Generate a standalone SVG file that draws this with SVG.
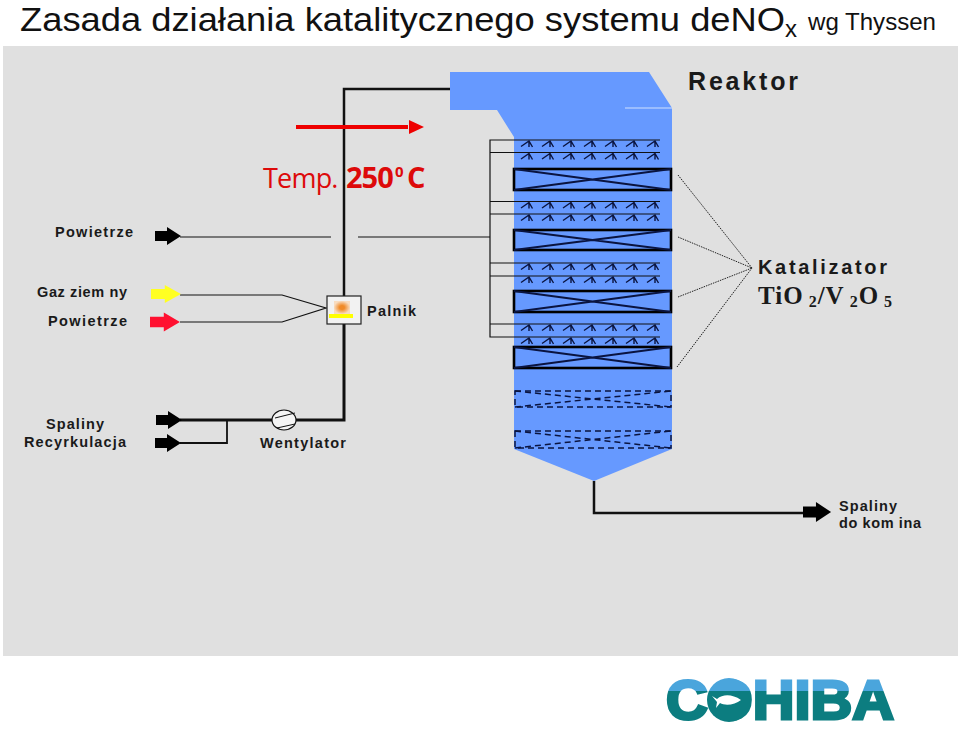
<svg xmlns="http://www.w3.org/2000/svg" xmlns:xlink="http://www.w3.org/1999/xlink" width="960" height="731" viewBox="0 0 960 731">
<style>
text{font-family:"Liberation Sans",Arial,sans-serif}
.lb{font-weight:bold;font-size:14.5px;fill:#1a1a1a}
.ln{fill:none;stroke:#111}
.dot{fill:none;stroke:#222;stroke-width:1;stroke-dasharray:1.5 1}
.cat{fill:none;stroke:#000;stroke-width:2.600}
.x{fill:none;stroke:#0a1440;stroke-width:1.8}
.dash{fill:none;stroke:#0a1440;stroke-width:1.5;stroke-dasharray:6 4}
.spr{fill:none;stroke:#0a1440;stroke-width:1.4}
</style>
<defs>
<g id="s"><path class="spr" d="M-8 5.500L0 0L3.500 6M0 0V6"/></g>
<g id="row"><use xlink:href="#s" x="529"/><use xlink:href="#s" x="550"/><use xlink:href="#s" x="571"/><use xlink:href="#s" x="592"/><use xlink:href="#s" x="613"/><use xlink:href="#s" x="634"/><use xlink:href="#s" x="655"/></g>
<path id="ar" d="M0 -5H12V-9L26 0L12 9V5H0Z"/>
<linearGradient id="logo" x1="0" y1="0" x2="0" y2="1"><stop offset="0.37" stop-color="#4aa5dc"/><stop offset="0.37" stop-color="#0c7d80"/></linearGradient>
<linearGradient id="o" x1="0" y1="0" x2="0" y2="1"><stop offset="0.3" stop-color="#4aa5dc"/><stop offset="0.3" stop-color="#0c7d80"/></linearGradient>
<radialGradient id="fl"><stop offset="0.3" stop-color="#f08a28"/><stop offset="1" stop-color="#f8dcc0"/></radialGradient>
</defs>
<rect width="960" height="731" fill="#fff"/>
<rect x="3" y="46" width="955" height="610" fill="#e0e0e0"/>
<g id="title"><text x="20" y="31" font-size="34" fill="#111" textLength="765" lengthAdjust="spacingAndGlyphs">Zasada działania katalitycznego systemu deNO</text><text x="785" y="37" font-size="24" fill="#111">x</text><text x="808" y="30" font-size="24" fill="#111" textLength="128" lengthAdjust="spacingAndGlyphs">wg Thyssen</text></g>
<g id="reactor">
<path d="M450 72H649L672 108V449L594 481L514 449V137L497 110H450Z" fill="#6699ff"/>
<path d="M625 108H672" stroke="#cfe0ff" stroke-width="1"/>
<text x="688" y="90" font-size="25" font-weight="bold" fill="#1a1a1a" textLength="110">Reaktor</text>
</g>
<g id="connectors">
<path class="ln" stroke-width="2.500" d="M344 296V89H450"/>
<path class="ln" stroke-width="3" d="M344 324V420H296M272 420H180"/>
<path class="ln" stroke-width="1.800" d="M180 443H227V420"/>
<path class="ln" stroke-width="1.200" d="M180 237H331M358 237H490"/>
<path class="ln" stroke-width="1.200" d="M180 295H282L326 308L282 322H180"/>
<path class="ln" stroke-width="1.200" d="M660 140H490V337H660M490 152.500H660M490 201.500H660M490 214H660M490 263H660M490 276H660M490 324H660"/>
<path class="ln" stroke-width="2.500" d="M594 481V513H805"/>
<path class="dot" d="M678 175L752 268M678 237L752 268M678 297L752 268M677 367L752 268"/>
</g>
<g id="sprayers">
<use xlink:href="#row" y="141"/><use xlink:href="#row" y="153.500"/><use xlink:href="#row" y="202.500"/><use xlink:href="#row" y="215"/><use xlink:href="#row" y="264"/><use xlink:href="#row" y="277"/><use xlink:href="#row" y="325"/><use xlink:href="#row" y="338"/>
</g>
<g id="catalysts">
<rect class="cat" x="514" y="169" width="157" height="21"/><path class="x" d="M514 169L671 190M514 190L671 169"/>
<rect class="cat" x="514" y="230" width="157" height="20"/><path class="x" d="M514 230L671 250M514 250L671 230"/>
<rect class="cat" x="514" y="291" width="157" height="21"/><path class="x" d="M514 291L671 312M514 312L671 291"/>
<rect class="cat" x="514" y="347" width="157" height="21"/><path class="x" d="M514 347L671 368M514 368L671 347"/>
<rect class="dash" x="515" y="391" width="156" height="16"/><path class="dash" d="M515 391L671 407M515 407L671 391"/>
<rect class="dash" x="515" y="431" width="156" height="17"/><path class="dash" d="M515 431L671 448M515 448L671 431"/>
</g>
<g id="burner">
<rect x="327" y="296" width="34" height="28" fill="#f2f2f2" stroke="#222" stroke-width="1.200"/>
<rect x="334" y="301" width="16" height="13" fill="url(#fl)"/>
<rect x="329" y="314" width="24" height="4" fill="#ffff00"/>
<text class="lb" x="367" y="316" textLength="49">Palnik</text>
</g>
<g id="fan">
<ellipse cx="284" cy="420" rx="12" ry="10" fill="#f4f4f4" stroke="#111" stroke-width="1.200"/>
<path class="ln" d="M275 418L295 413M277 428L295 424"/>
<text class="lb" x="260" y="448" textLength="86">Wentylator</text>
</g>
<g id="inputs">
<use xlink:href="#ar" x="155" y="236" fill="#000"/>
<use xlink:href="#ar" transform="translate(151 294) scale(1.15 1)" fill="#ffff22"/>
<use xlink:href="#ar" transform="translate(150 322) scale(1.15 1.05)" fill="#ff1030"/>
<use xlink:href="#ar" x="156" y="420" fill="#000"/>
<use xlink:href="#ar" x="155" y="443" fill="#000"/>
<use xlink:href="#ar" transform="translate(803 512) scale(1.08 1.1)" fill="#000"/>
<text class="lb" x="55" y="237" textLength="78">Powietrze</text>
<text class="lb" x="37" y="297" textLength="90">Gaz ziem ny</text>
<text class="lb" x="48" y="326" textLength="79">Powietrze</text>
<text class="lb" x="46" y="429" textLength="58">Spaliny</text>
<text class="lb" x="24" y="447" textLength="102">Recyrkulacja</text>
<text class="lb" x="839" y="511" textLength="58">Spaliny</text>
<text class="lb" x="839" y="528" textLength="82">do kom ina</text>
</g>
<g id="catalyst-label">
<text x="758" y="274" font-size="20" font-weight="bold" fill="#1a1a1a" textLength="129">Katalizator</text>
<text x="758" y="304" font-size="25" font-weight="bold" fill="#1a1a1a" style="font-family:'Liberation Serif',serif" letter-spacing="1">TiO<tspan font-size="16" dy="3"> 2</tspan><tspan dy="-3">/V</tspan><tspan font-size="16" dy="3"> 2</tspan><tspan dy="-3">O</tspan><tspan font-size="16" dy="3"> 5</tspan></text>
</g>
<g id="temp">
<path d="M296 127H408" stroke="#ee0000" stroke-width="4"/><path d="M409 120L424 127L409 134Z" fill="#ee0000"/>
<text x="263" y="188" fill="#dd0a0a" font-size="27" letter-spacing="-0.800" style="font-family:'Open Sans',sans-serif">Temp.<tspan x="346" font-size="29" font-weight="bold" letter-spacing="-1">250</tspan><tspan x="395" dy="-11" font-size="15" font-weight="bold" letter-spacing="0">0</tspan><tspan x="407" dy="11" font-size="29" font-weight="bold" letter-spacing="0">C</tspan></text>
</g>
<g id="logo-cohiba">
<text x="666" y="719" font-size="56" font-weight="bold" fill="url(#logo)" stroke="url(#logo)" stroke-width="3" textLength="228" lengthAdjust="spacingAndGlyphs">COHIBA</text>
<circle cx="729" cy="700" r="22" fill="url(#o)"/>
<path d="M717 699C723 694 732 694 741 700C735 705 725 706 720 703L716 708L717 702L712 696Z" fill="#fff"/>
</g>
</svg>
